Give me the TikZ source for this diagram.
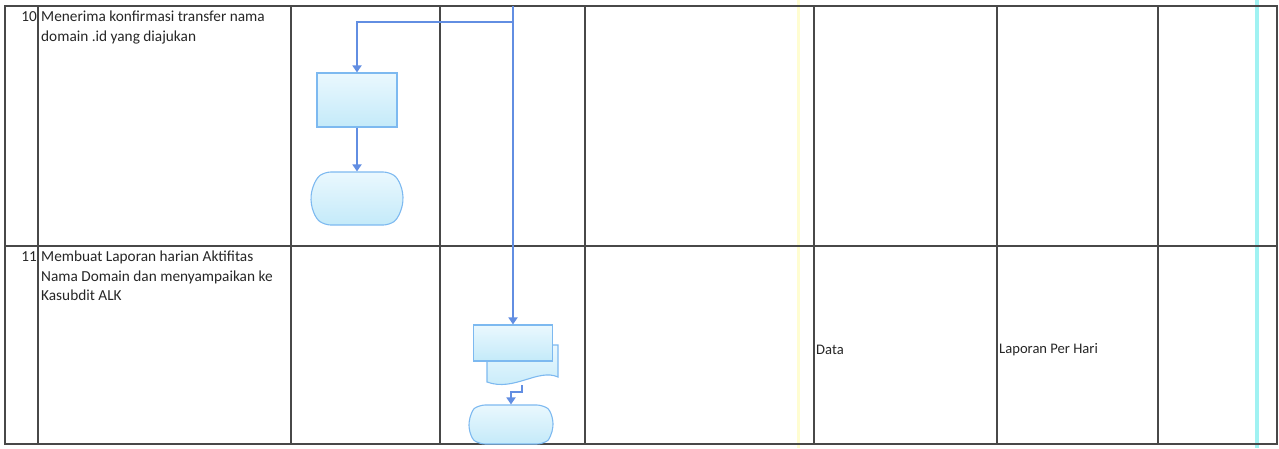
\documentclass[tikz,border=0pt]{standalone}
\usepackage{fontspec}
\setmainfont{Carlito}
\usetikzlibrary{arrows.meta,shapes.misc}
\definecolor{flowblue}{RGB}{98,142,226}
\definecolor{edgeblue}{RGB}{125,185,240}
\definecolor{filltop}{RGB}{234,248,254}
\definecolor{fillbot}{RGB}{196,234,249}
\definecolor{gridgray}{RGB}{72,72,72}
\definecolor{txtgray}{RGB}{38,38,38}
\definecolor{streak}{RGB}{160,242,242}
\tikzset{
  grid/.style={draw=gridgray, line width=1.3pt},
  proc/.style={draw=edgeblue, line width=1.1pt, top color=filltop, bottom color=fillbot,
    minimum width=80pt, minimum height=54pt, inner sep=0pt},
  term/.style={proc, rounded rectangle, rounded rectangle arc length=110, rounded corners=6pt},
  flow/.style={draw=flowblue, line width=1.8pt, -{Triangle[length=7pt,width=9pt]}},
  lbl/.style={font=\fontsize{15.3}{19.5}\selectfont, text=txtgray, inner sep=0pt, align=left},
  cell/.style={lbl, font=\fontsize{14.6}{18}\selectfont}
}

\begin{document}
\begin{tikzpicture}[x=1pt,y=-1pt]
  \useasboundingbox (0,0) rectangle (1279,448);
  \def\ya{6}     % top of table
  \def\yb{246}   % row split
  \def\yc{444}   % bottom of table
  % scan streaks
  \fill[streak] (1255,0) rectangle (1259,448);
  \fill[yellow!18] (797,0) rectangle (800,448);
  % table
  \draw[grid] (5,\ya) rectangle (1277,\yc);
  \draw[grid] (5,\yb) -- (1277,\yb);
  \foreach \x in {38,291,440,585,814,997,1158} { \draw[grid] (\x,\ya) -- (\x,\yc); }

  % row texts
  \node[lbl, anchor=north east] (n10) at (37,11) {10};
  \node[lbl, anchor=north west] (t10) at (41,11) {Menerima konfirmasi transfer nama\\domain .id yang diajukan};
  \node[lbl, anchor=north east] (n11) at (37,251) {11};
  \node[lbl, anchor=north west] (t11) at (41,251) {Membuat Laporan harian Aktifitas\\Nama Domain dan menyampaikan ke\\Kasubdit ALK};
  \node[cell, anchor=west] (data) at (816,350) {Data};
  \node[cell, anchor=west] (lap) at (999,350) {Laporan Per Hari};

  % shapes
  \node[proc] (box1) at (357,100) {};
  \node[term, minimum width=92pt, minimum height=53pt] (end1) at (357,198.5) {};
  \draw[draw=edgeblue, line width=1.1pt, top color=filltop, bottom color=fillbot]
    (487,345) -- (558,345) -- (558,377) .. controls (538,368) and (514,392) .. (487,382) -- cycle;
  \coordinate (docout) at (522,385);
  \node[proc, minimum width=79pt, minimum height=36pt] (box2) at (513,343) {};
  \node[term, minimum width=84pt, minimum height=39pt] (end2) at (511,424.5) {};

  % flow
  \coordinate (src) at (513,\ya);
  \coordinate (split) at (513,22);
  \draw[flow] (src) -- (box2.north);
  \draw[flow] (split) -| (box1.north);
  \draw[flow] (box1.south) -- (end1.north);
  \draw[flow] (docout) -- ++(0,7) -| (end2.north);
\end{tikzpicture}
\end{document}
